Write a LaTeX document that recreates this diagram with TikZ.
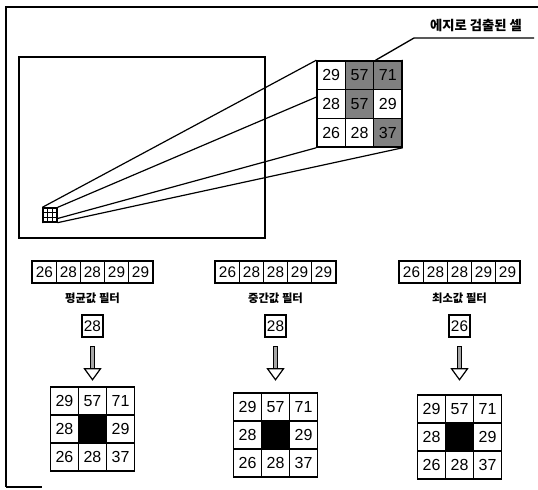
\documentclass[tikz,border=0pt]{standalone}
\usepackage{fontspec}
\setmainfont{Liberation Sans}
\newfontfamily\kr{Noto Sans CJK KR}
\usetikzlibrary{calc,fit}
\pgfdeclarelayer{bg}
\pgfsetlayers{bg,main}
\tikzset{
  frameline/.style={line width=1.6pt},
  zcell/.style={draw, line width=1.1pt, fill=white, minimum width=21.25pt, minimum height=21.5pt, inner sep=0pt, font=\fontsize{12}{12}\selectfont},
  edgecell/.style={zcell, fill=black!50},
  rcell/.style={draw, line width=0.9pt, fill=white, minimum width=18pt, minimum height=15.75pt, inner sep=0pt, font=\fontsize{11.5}{12}\selectfont},
  rowbox/.style={draw, line width=1.6pt, inner sep=0pt},
  single/.style={draw, line width=1.6pt, fill=white, minimum width=16pt, minimum height=16pt, inner sep=0pt, font=\fontsize{11.5}{12}\selectfont},
  gcell/.style={draw, line width=1pt, fill=white, minimum width=21pt, minimum height=21pt, inner sep=0pt, font=\fontsize{12}{12}\selectfont},
  blackcell/.style={gcell, fill=black},
  flabel/.style={font=\kr\bfseries\fontsize{8.5}{10}\selectfont},
  projline/.style={line width=0.9pt},
  hollowarrow/.style={line width=0.9pt},
}
\begin{document}
\begin{tikzpicture}[x=0.75pt,y=-0.75pt]
\useasboundingbox (0,0) rectangle (538,489);
% outer frame
\coordinate (fa) at (538,7);
\coordinate (fb) at (6,7);
\coordinate (fc) at (6,487);
\coordinate (fd) at (42,487);
\draw[frameline] (fa) -- (fb) -- (fc);
\draw[line width=1pt] (fc) -- (fd);
% big image rectangle
\node[draw, line width=0.9pt, minimum width=184.5pt, minimum height=135.75pt, inner sep=0pt] (img) at (142,147.5) {};
% small grid in the image
\node[draw, line width=1pt, minimum width=10.5pt, minimum height=10.5pt, inner sep=0pt, fill=white] (sg) at (50,215) {};
\foreach \t in {1,2}{
  \draw[line width=0.8pt] ($(sg.north west)!\t/3!(sg.north east)$) -- ($(sg.south west)!\t/3!(sg.south east)$);
  \draw[line width=0.8pt] ($(sg.north west)!\t/3!(sg.south west)$) -- ($(sg.north east)!\t/3!(sg.south east)$);
}
% zoomed grid
\node[zcell] (z11) at (331.2,75.3) {29};
\node[edgecell] (z12) at (359.5,75.3) {57};
\node[edgecell] (z13) at (387.8,75.3) {71};
\node[zcell] (z21) at (331.2,104) {28};
\node[edgecell] (z22) at (359.5,104) {57};
\node[zcell] (z23) at (387.8,104) {29};
\node[zcell] (z31) at (331.2,132.7) {26};
\node[zcell] (z32) at (359.5,132.7) {28};
\node[edgecell] (z33) at (387.8,132.7) {37};
\begin{pgfonlayer}{bg}
\draw[projline] (sg.north west) -- (z11.north west);
\draw[projline] (sg.north east) -- (z13.north east);
\draw[projline] (sg.south west) -- (z31.south west);
\draw[projline] (sg.south east) -- (z33.south east);
\end{pgfonlayer}
% edge label
\node[font=\kr\bfseries\fontsize{10}{11}\selectfont, anchor=south] (elabel) at (476,36.5) {에지로 검출된 셀};
\coordinate (ul) at (534,38);
\coordinate (uk) at (414,38);
\draw[line width=1pt] (ul) -- (uk) -- ([xshift=2pt]z13.north west);
% three filters
\foreach \cx/\gy/\lab/\res [count=\k] in {92.5/429/평균값 필터/28, 275.5/435/중간값 필터/28, 459.5/437/최소값 필터/26}{
  \foreach \v [count=\i] in {26,28,28,29,29}{
    \node[rcell] (r\k\i) at ({\cx+(\i-3)*24},272) {\v};
  }
  \node[rowbox, fit=(r\k1)(r\k5)] (row\k) {};
  \node[flabel] (lab\k) at (\cx,298) {\lab};
  \node[single] (s\k) at (\cx,326) {\res};
  % result grid
  \node[gcell] (g\k a) at ({\cx-28},{\gy-28}) {29};
  \node[gcell] (g\k b) at (\cx,{\gy-28}) {57};
  \node[gcell] (g\k c) at ({\cx+28},{\gy-28}) {71};
  \node[gcell] (g\k d) at ({\cx-28},\gy) {28};
  \node[blackcell] (g\k e) at (\cx,\gy) {};
  \node[gcell] (g\k f) at ({\cx+28},\gy) {29};
  \node[gcell] (g\k g) at ({\cx-28},{\gy+28}) {26};
  \node[gcell] (g\k h) at (\cx,{\gy+28}) {28};
  \node[gcell] (g\k i) at ({\cx+28},{\gy+28}) {37};
  % hollow arrow
  \draw[hollowarrow, fill=black!35] ([shift={(-2,9)}]s\k.south) -- ++(0,22) -- ++(4,0) -- ++(0,-22) -- cycle;
  \draw[hollowarrow, fill=white] ([shift={(-8,31)}]s\k.south) -- ++(16,0) -- ([shift={(0,42)}]s\k.south) -- cycle;
}
\end{tikzpicture}
\end{document}
